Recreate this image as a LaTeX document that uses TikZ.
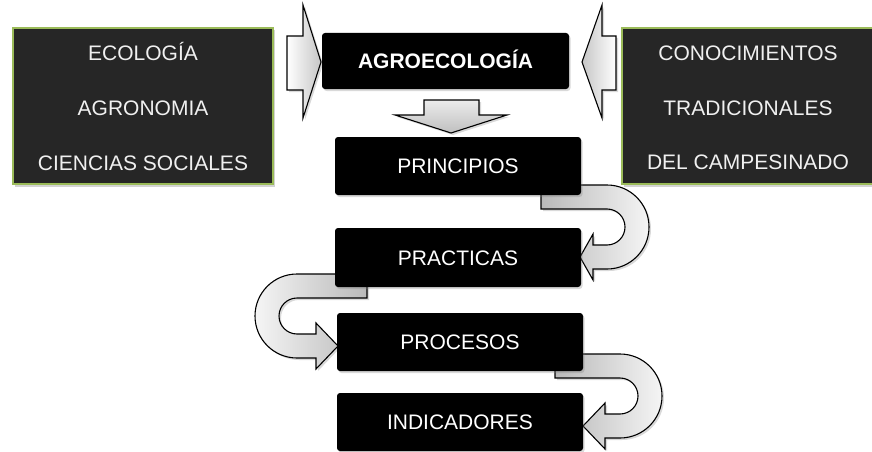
\documentclass[tikz,border=0pt]{standalone}
\usepackage{fontspec}
\setmainfont{Liberation Sans}
\usetikzlibrary{shadows}
\definecolor{darkbox}{HTML}{262626}
\definecolor{edgegreen}{HTML}{9BBB59}
\begin{document}
\begin{tikzpicture}[x=1pt,y=-1pt,
  every node/.style={font=\fontsize{21}{25}\selectfont},
  srcbox/.style={draw=edgegreen, line width=2pt, fill=darkbox, minimum height=156pt, inner sep=0pt,
    drop shadow={opacity=0.35, shadow xshift=2pt, shadow yshift=-2.5pt}},
  srctext/.style={text=white!94!black, anchor=base, inner sep=0pt},
  blkbox/.style={fill=black, rounded corners=3pt, minimum width=246pt, minimum height=58pt, text=white,
    inner sep=0pt, text height=15pt, text depth=0pt,
    drop shadow={opacity=0.3, shadow xshift=1.5pt, shadow yshift=-2pt}},
  blockarrow/.style={draw=black, line width=1.1pt, line join=miter,
    drop shadow={opacity=0.3, shadow xshift=2pt, shadow yshift=-2pt}},
]
\useasboundingbox (0,0) rectangle (872,452);
\clip (0,0) rectangle (872,452);

% side feed-in arrows
\path[blockarrow, left color=white, right color=gray!45]
  (287,36) -- (303,36) -- (303,5) -- (321,62) -- (303,118) -- (303,90) -- (287,90) -- cycle;
\path[blockarrow, left color=gray!45, right color=white]
  (616,36) -- (602,36) -- (602,5) -- (582,62) -- (602,118) -- (602,90) -- (616,90) -- cycle;
% down arrow
\path[blockarrow, top color=gray!15, bottom color=gray!50]
  (424,100) -- (479,100) -- (479,115) -- (507,115) -- (451,133) -- (395,115) -- (424,115) -- cycle;

% U-turn arrows
\path[blockarrow, left color=gray!55, right color=gray!8]
  (541,185) -- (607,185) arc[start angle=-90,end angle=90,radius=42]
  -- (593,269) -- (593,280) -- (580,257) -- (593,234) -- (593,245) -- (607,245)
  arc[start angle=90,end angle=-90,radius=18] -- (541,209) -- cycle;
\path[blockarrow, left color=gray!8, right color=gray!55]
  (367,274) -- (297,274) arc[start angle=-90,end angle=-270,radius=42]
  -- (316,358) -- (316,369) -- (338,346) -- (316,323) -- (316,334) -- (297,334)
  arc[start angle=90,end angle=270,radius=18] -- (367,298) -- cycle;
\path[blockarrow, left color=gray!55, right color=gray!8]
  (555,354) -- (620,354) arc[start angle=-90,end angle=90,radius=42]
  -- (605,438) -- (605,449) -- (583,426) -- (605,403) -- (605,414) -- (620,414)
  arc[start angle=90,end angle=-90,radius=18] -- (555,378) -- cycle;

% source boxes
\node[srcbox, minimum width=260pt] (leftbox) at (143,106) {};
\node[srctext] (l1) at (143,60) {ECOLOGÍA};
\node[srctext] (l2) at (143,115) {AGRONOMIA};
\node[srctext] (l3) at (143,170) {CIENCIAS SOCIALES};

\node[srcbox, minimum width=253pt] (rightbox) at (748.5,106) {};
\node[srctext] (r1) at (748,60) {CONOCIMIENTOS};
\node[srctext] (r2) at (748,115) {TRADICIONALES};
\node[srctext] (r3) at (748,169) {DEL CAMPESINADO};

% main chain
\node[blkbox, minimum width=247pt, minimum height=56pt, font=\fontsize{21}{25}\selectfont\bfseries] (agro) at (445.5,61) {AGROECOLOGÍA};
\node[blkbox] (princ) at (458,166) {PRINCIPIOS};
\node[blkbox, minimum height=59pt] (pract) at (458,257.5) {PRACTICAS};
\node[blkbox] (proc) at (460,342) {PROCESOS};
\node[blkbox] (indic) at (460,422) {INDICADORES};
\end{tikzpicture}
\end{document}
